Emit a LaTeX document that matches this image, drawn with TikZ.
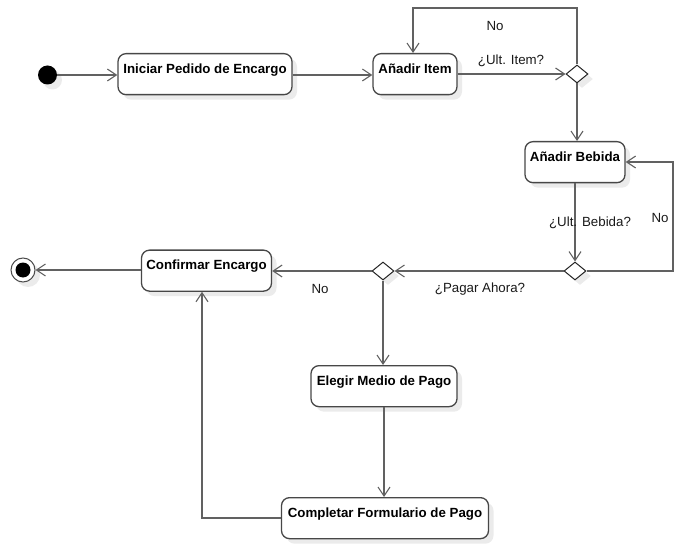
\documentclass[tikz,border=0pt]{standalone}
\usepackage{fontspec}
\setmainfont{Liberation Sans}
\usetikzlibrary{shapes.geometric,arrows.meta,shadows}
\begin{document}
\begin{tikzpicture}[x=1bp,y=-1bp,
  font=\fontsize{13.3bp}{15bp}\selectfont,
  shad/.style={drop shadow={shadow xshift=5bp,shadow yshift=-5bp,fill=black!8,opacity=1}},
  act/.style={draw=black!72,line width=1.3bp,rounded corners=8bp,fill=white,shad,
     font=\fontsize{13.3bp}{15bp}\selectfont\bfseries,
     inner xsep=0pt,inner ysep=3.5bp,text height=16bp,text depth=18bp,anchor=north},
  dec/.style={diamond,draw=black!85,line width=1bp,fill=white,shad,inner sep=0pt,
     minimum width=22bp,minimum height=18bp},
  arr/.style={draw=black!62,line width=1.3bp,-{Straight Barb[length=9bp,width=12bp,line width=1.1bp]}},
  lbl/.style={inner sep=0pt,text=black!90}
]
\useasboundingbox (0,0) rectangle (685,548);
% initial and final
\node[circle,fill=black,minimum size=19bp,inner sep=0pt,shad] (start) at (47.5,75) {};
\node[circle,draw=black!70,line width=1bp,fill=white,minimum size=24bp,inner sep=0pt,shad,
  path picture={\fill[black] (path picture bounding box.center) circle (7.5bp);}] (final) at (23,270) {};
% activities
\node[act,minimum width=174bp] (ini) at (205,53) {Iniciar Pedido de Encargo};
\node[act,minimum width=84bp] (item) at (415,53) {Añadir Item};
\node[act,minimum width=100bp] (beb) at (575,141) {Añadir Bebida};
\node[act,minimum width=130bp] (conf) at (206.5,249.5) {Confirmar Encargo};
\node[act,minimum width=146bp] (elegir) at (384,365) {Elegir Medio de Pago};
\node[act,minimum width=207bp] (compl) at (385,497) {Completar Formulario de Pago};
% decisions
\node[dec] (d1) at (577,74) {};
\node[dec] (d2) at (575,271) {};
\node[dec] (d3) at (383,271) {};
% helper coordinates
\coordinate (loopA) at (413,8);
\coordinate (loopB) at (673,162);
\coordinate (loopC) at (202,518);
% connectors
\draw[arr] (start) -- (ini.west |- start);
\draw[arr] (ini.east |- start) -- (item.west |- start);
\draw[arr] (item.east |- d1) -- (d1.west);
\draw[arr] (d1.north) |- (loopA) -- (item.north -| loopA);
\draw[arr] (d1.south) -- (beb.north -| d1);
\draw[arr] (beb.south) -- (d2.north);
\draw[arr] (d2.east) -| (loopB) -- (beb.east |- loopB);
\draw[arr] (d2.west) -- (d3.east);
\draw[arr] (d3.west) -- (conf.east |- d3);
\draw[arr] (conf.west |- final) -- (final.east);
\draw[arr] (d3.south) -- (elegir.north -| d3);
\draw[arr] (elegir.south) -- (compl.north -| elegir.south);
\draw[arr] (compl.west |- loopC) -- (loopC) -- (conf.south -| loopC);
% labels
\node[lbl] (lNo1) at (495,26) {No};
\node[lbl] (lItem) at (511,61) {¿Ult. Item?};
\node[lbl] (lBeb) at (590,223) {¿Ult. Bebida?};
\node[lbl] (lNo2) at (660,218) {No};
\node[lbl] (lPagar) at (480,289) {¿Pagar Ahora?};
\node[lbl] (lNo3) at (320,289) {No};
\end{tikzpicture}
\end{document}
